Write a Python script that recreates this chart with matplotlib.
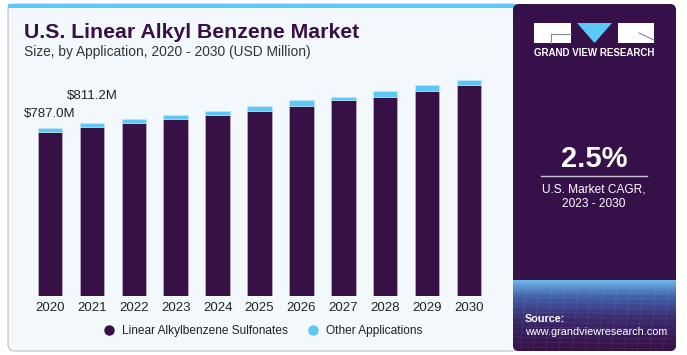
import numpy as np
import matplotlib
matplotlib.use("Agg")
import matplotlib.pyplot as plt
from matplotlib.patches import FancyBboxPatch, Rectangle, Polygon
from matplotlib.lines import Line2D
from matplotlib.colors import LinearSegmentedColormap

# data (USD Million)
years = ["2020", "2021", "2022", "2023", "2024", "2025", "2026", "2027", "2028", "2029", "2030"]
las_values = [768.2, 792.4, 810, 829, 851, 870, 893, 920, 936, 962, 989]
other_values = [18.8, 18.8, 19, 20, 19, 22, 25, 14, 25, 27, 26]
labelled_years = ["2020", "2021"]

PURPLE = "#371046"
CYAN = "#5bc8f5"
CARD_BG = "#f3f8fc"

plt.rcParams["font.family"] = ["Liberation Sans", "DejaVu Sans"]

W, H = 687, 355
fig = plt.figure(figsize=(W / 100, H / 100), dpi=100)
fig.patch.set_facecolor("white")

# background layer in pixel coordinates
bg = fig.add_axes([0, 0, 1, 1], zorder=0)
bg.set_xlim(0, W)
bg.set_ylim(H, 0)
bg.axis("off")

card = FancyBboxPatch((8, 4), 510, 347, boxstyle="round,pad=0,rounding_size=7",
                      facecolor=CARD_BG, edgecolor="#c9ccd2", linewidth=1.0)
bg.add_patch(card)
bg.add_patch(Rectangle((8, 4), 508, 4, facecolor=CYAN, edgecolor="none"))

panel = FancyBboxPatch((513, 4), 163, 347, boxstyle="round,pad=0,rounding_size=6",
                       facecolor="#361149", edgecolor="none")
bg.add_patch(panel)
cmap = LinearSegmentedColormap.from_list(
    "pan", [(0, "#361149"), (0.35, "#3a2a6e"), (0.7, "#3f5ea8"), (1, "#6fb8e8")])
grad = np.linspace(0, 1, 100).reshape(-1, 1) ** 1.3
im = bg.imshow(grad, cmap=cmap, extent=[513, 676, 280, 351], aspect="auto", zorder=1)
im.set_clip_path(panel)
for k in range(12):
    yy = 292 + k * 5
    bg.plot([513, 676], [yy, yy + 2], color="white", alpha=0.07, lw=0.6, zorder=2)
for k in range(14):
    xx = 513 + k * 13
    bg.plot([xx, xx - 6], [288, 351], color="white", alpha=0.07, lw=0.6, zorder=2)

# logo
bg.add_patch(Rectangle((534, 23), 37, 20, facecolor="white", edgecolor="none", zorder=3))
bg.plot([551, 571], [34, 34], color="#888888", lw=0.8, zorder=4)
bg.plot([551, 551], [34, 43], color="#888888", lw=0.8, zorder=4)
bg.add_patch(Polygon([[577, 23], [612, 23], [594.5, 43]], closed=True,
                     facecolor=CYAN, edgecolor="none", zorder=3))
bg.add_patch(Rectangle((618, 23), 36, 20, facecolor="white", edgecolor="none", zorder=3))
bg.plot([639, 654], [33, 40], color="#888888", lw=0.8, zorder=4)
bg.text(594, 53, "GRAND VIEW RESEARCH", color="white", fontsize=7.0, fontweight="bold",
        ha="center", va="center", zorder=4)

# CAGR block
bg.text(594, 159, "2.5%", color="white", fontsize=21, fontweight="bold",
        ha="center", va="center", zorder=4)
bg.plot([541, 647], [176, 176], color="#c8c0d0", lw=1.0, zorder=4)
bg.text(594, 190, "U.S. Market CAGR,", color="white", fontsize=8.6,
        ha="center", va="center", zorder=4)
bg.text(594, 204, "2023 - 2030", color="white", fontsize=8.6,
        ha="center", va="center", zorder=4)

bg.text(525, 319, "Source:", color="white", fontsize=7.8, fontweight="bold",
        ha="left", va="center", zorder=4)
bg.text(525, 332, "www.grandviewresearch.com", color="white", fontsize=7.8,
        ha="left", va="center", zorder=4)

# titles
bg.text(24, 33, "U.S. Linear Alkyl Benzene Market", color=PURPLE, fontsize=15.3,
        fontweight="heavy", ha="left", va="center")
bg.text(24, 52, "Size, by Application, 2020 - 2030 (USD Million)", color="#333333",
        fontsize=9.95, ha="left", va="center")

# bar chart
step = 41.9
x0 = 50
left_px = x0 - 0.7 * step
right_px = x0 + 10.7 * step
bottom_px = 296
ymax = 1100
top_px = bottom_px - ymax / 4.693
ax = fig.add_axes([left_px / W, 1 - bottom_px / H, (right_px - left_px) / W,
                   (bottom_px - top_px) / H], zorder=2)
ax.patch.set_alpha(0)
x = np.arange(len(years))
ax.bar(x, las_values, width=0.585, color=PURPLE, edgecolor="#cbbfd6", linewidth=0.4)
ax.bar(x, other_values, width=0.585, bottom=las_values, color=CYAN,
       edgecolor="#cbe9f7", linewidth=0.4)
ax.set_xlim(-0.7, 10.7)
ax.set_ylim(0, ymax)
ax.set_yticks([])
ax.set_xticks(x)
ax.set_xticklabels(years, fontsize=9.5, color="#222222")
ax.tick_params(axis="x", length=0, pad=4)
for s in ax.spines.values():
    s.set_visible(False)

offsets = [10, 19.5]
for yr, off in zip(labelled_years, offsets):
    i = years.index(yr)
    total = las_values[i] + other_values[i]
    ax.annotate(f"${total:.1f}M", (i, total), xytext=(0, off), textcoords="offset points",
                ha="center", va="center", fontsize=9.5, color="#222222")

handles = [
    Line2D([], [], marker="o", linestyle="none", markersize=6.5, color=PURPLE,
           label="Linear Alkylbenzene Sulfonates"),
    Line2D([], [], marker="o", linestyle="none", markersize=6.5, color=CYAN,
           label="Other Applications"),
]
ax.legend(handles=handles, loc="center", bbox_to_anchor=(0.5, -0.149), ncol=2,
          frameon=False, fontsize=8.6, handletextpad=0.1, columnspacing=1.1,
          labelcolor="#222222")

fig.savefig("out.png", dpi=100, facecolor="white")
